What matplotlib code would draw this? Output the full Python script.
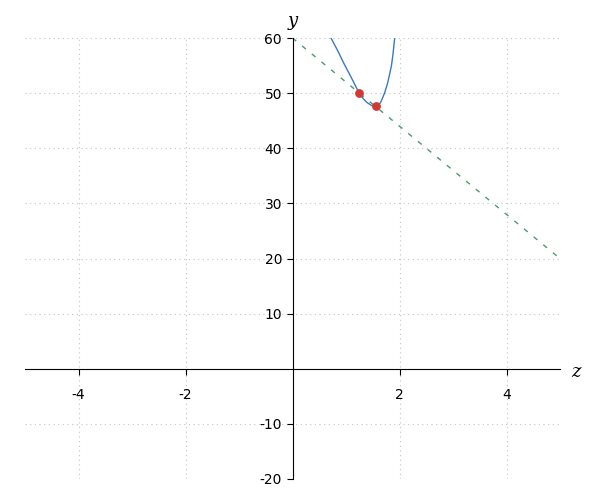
import matplotlib
matplotlib.use("Agg")
import matplotlib.pyplot as plt

plt.rcParams["axes.unicode_minus"] = False

# curve
curve_z = [0.72, 0.85, 0.97, 1.10, 1.22, 1.25, 1.29, 1.33, 1.37, 1.40, 1.44, 1.47, 1.50, 1.53, 1.56, 1.58, 1.61, 1.64, 1.67, 1.69, 1.72, 1.75, 1.78, 1.81, 1.85, 1.88, 1.91]
curve_y = [60.0, 57.6, 55.2, 52.8, 50.5, 50.0, 49.4, 48.9, 48.5, 48.25, 48.0, 47.8, 47.65, 47.57, 47.55, 47.6, 47.8, 48.2, 48.8, 49.3, 50.0, 50.9, 51.9, 53.2, 55.0, 57.2, 60.0]

# dashed line end points
line_z = [0, 5]
line_y = [60, 20]

# marked points
pts_z = [1.25, 1.57]
pts_y = [50.0, 47.58]

xticks = [-4, -2, 2, 4]
yticks = [-20, -10, 10, 20, 30, 40, 50, 60]

fig = plt.figure(figsize=(6, 5), dpi=100)
ax = fig.add_axes([25 / 600, 21 / 500, 535 / 600, 441 / 500])

ax.plot(curve_z, curve_y, color="#3a78c2", lw=1.0, zorder=3)
ax.plot(line_z, line_y, color="#4a9a6a", lw=1.0, ls=(0, (3.5, 5.5)), zorder=2)
ax.scatter(pts_z, pts_y, color="#d03a32", s=28, zorder=4)

ax.set_xlim(-5, 5)
ax.set_ylim(-20, 60)
ax.set_xticks(xticks)
ax.set_yticks(yticks)

ax.spines["left"].set_position(("data", 0))
ax.spines["bottom"].set_position(("data", 0))
ax.spines["right"].set_visible(False)
ax.spines["top"].set_visible(False)
ax.tick_params(axis="x", direction="out", length=4, pad=10, labelsize=10)
ax.tick_params(axis="y", direction="out", length=4, labelsize=10)

ax.grid(True, color="#c4c4c4", ls=(0, (1, 3.2)), lw=0.8)
ax.set_axisbelow(True)

ax.text(0, 61.5, "y", family="serif", style="italic", fontsize=13, ha="center", va="bottom")
ax.text(5.2, -0.5, "z", family="serif", style="italic", fontsize=13, ha="left", va="center")

fig.savefig("out.png", dpi=100)
